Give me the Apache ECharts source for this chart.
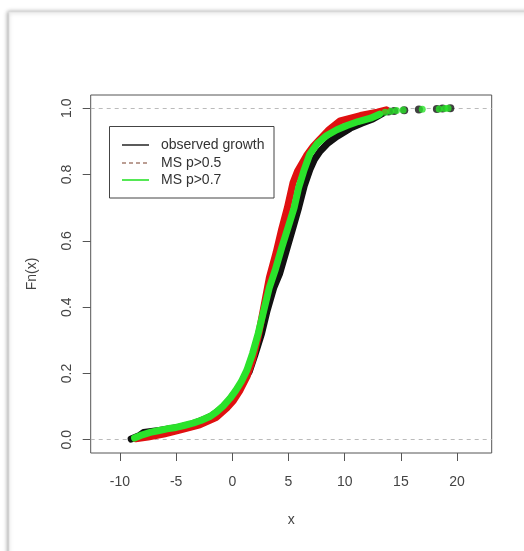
<!DOCTYPE html>
<html>
<head>
<meta charset="utf-8">
<script src="https://cdn.jsdelivr.net/npm/echarts@6/dist/echarts.min.js"></script>
<style>
html,body{margin:0;padding:0;background:#fff;}
#c{width:524px;height:551px;}
</style>
</head>
<body>
<div id="c"></div>
<script>
// ---- data ----
const xTicks = [-10, -5, 0, 5, 10, 15, 20];
const yTicks = [0, 0.2, 0.4, 0.6, 0.8, 1.0];
const legendNames = ['observed growth', 'MS p>0.5', 'MS p>0.7'];

const observedX = [-9.0,-8.3,-7.9,-6.5,-5.0,-3.5,-2.6,-1.8,-1.0,-0.3,0.3,0.9,1.5,2.0,2.6,3.1,3.7,4.2,4.8,5.4,5.9,6.4,6.9,7.3,7.8,8.5,9.3,10.5,11.5,12.5,13.4];
const observedF = [0.002,0.012,0.022,0.028,0.036,0.048,0.060,0.073,0.093,0.118,0.145,0.172,0.205,0.255,0.320,0.390,0.460,0.500,0.570,0.640,0.700,0.766,0.815,0.845,0.870,0.895,0.915,0.940,0.955,0.968,0.985];
const observedTailX = [13.9,14.4,15.3,16.6,18.2,18.7,19.4];
const observedTailF = [0.990,0.992,0.994,0.996,0.998,0.999,1.0];

const ms05X = [-8.6,-7.5,-6.1,-4.6,-2.9,-1.4,-0.5,0.1,0.7,1.3,1.8,2.3,2.8,3.3,3.9,4.4,4.9,5.4,5.8,6.6,7.2,7.8,8.6,9.6,11.4,12.9,13.7];
const ms05F = [0.003,0.008,0.017,0.030,0.045,0.068,0.095,0.118,0.150,0.190,0.240,0.310,0.400,0.490,0.565,0.636,0.700,0.775,0.810,0.857,0.885,0.907,0.935,0.962,0.978,0.988,0.995];

const ms07X = [-8.7,-8.0,-7.3,-6.5,-5.8,-5.0,-4.3,-3.5,-2.8,-2.0,-1.4,-0.8,-0.2,0.3,0.8,1.3,1.8,2.3,2.8,3.3,3.8,4.4,5.0,5.5,5.9,6.4,6.9,7.6,8.4,9.3,10.2,11.2,12.3,13.1];
const ms07F = [0.005,0.015,0.022,0.028,0.033,0.037,0.043,0.050,0.058,0.070,0.084,0.102,0.125,0.148,0.175,0.210,0.260,0.320,0.390,0.460,0.510,0.580,0.645,0.700,0.760,0.815,0.862,0.895,0.918,0.935,0.948,0.960,0.970,0.982];
const ms07TailX = [13.6,14.1,14.6,15.2,16.9,18.4,18.9,19.2];
const ms07TailF = [0.988,0.991,0.993,0.995,0.997,0.998,0.999,1.0];

const zip = (a, b) => a.map((v, i) => [v, b[i]]);

const FONT = '"Liberation Sans", Arial, sans-serif';
const BLACK = '#111111', RED = '#e01010', GREEN = '#2be32b';
const LW = 7;

const chart = echarts.init(document.getElementById('c'), null, {renderer: 'canvas'});
chart.setOption({
  animation: false,
  backgroundColor: '#ffffff',
  graphic: [
    {type: 'rect', z: -10, shape: {x: 9, y: 12, width: 540, height: 560},
     style: {fill: '#ffffff', stroke: '#e2e2e2', lineWidth: 1,
             shadowBlur: 4, shadowColor: 'rgba(0,0,0,0.35)', shadowOffsetX: -1, shadowOffsetY: 0}},
    {type: 'rect', z: 50, shape: {x: 109.5, y: 126.5, width: 164.5, height: 71.5},
     style: {fill: '#ffffff', stroke: '#444', lineWidth: 1}},
    {type: 'line', z: 51, shape: {x1: 122, y1: 145, x2: 149, y2: 145}, style: {stroke: '#333', lineWidth: 1.6}},
    {type: 'line', z: 51, shape: {x1: 122, y1: 163, x2: 149, y2: 163}, style: {stroke: '#a57f72', lineWidth: 1.6, lineDash: [4, 3]}},
    {type: 'line', z: 51, shape: {x1: 122, y1: 180, x2: 149, y2: 180}, style: {stroke: GREEN, lineWidth: 1.6}},
    {type: 'text', z: 51, x: 161, y: 145, style: {text: legendNames[0], font: '14px ' + FONT, fill: '#333', verticalAlign: 'middle'}},
    {type: 'text', z: 51, x: 161, y: 163, style: {text: legendNames[1], font: '14px ' + FONT, fill: '#333', verticalAlign: 'middle'}},
    {type: 'text', z: 51, x: 161, y: 180, style: {text: legendNames[2], font: '14px ' + FONT, fill: '#333', verticalAlign: 'middle'}}
  ],
  grid: {left: 90.7, top: 95, right: 32.3, bottom: 98, show: true, borderColor: '#555', borderWidth: 1, backgroundColor: 'transparent'},
  xAxis: {
    type: 'value', min: -12.6, max: 23.08,
    name: 'x', nameLocation: 'middle', nameGap: 60,
    nameTextStyle: {fontFamily: FONT, fontSize: 14, color: '#444'},
    axisLine: {show: false, onZero: false},
    splitLine: {show: false},
    axisTick: {show: true, inside: false, length: 8, lineStyle: {color: '#555'}, customValues: xTicks},
    axisLabel: {customValues: xTicks, margin: 22, fontFamily: FONT, fontSize: 14, color: '#444',
                formatter: v => String(v)}
  },
  yAxis: {
    type: 'value', min: -0.04, max: 1.04,
    name: 'Fn(x)', nameLocation: 'middle', nameGap: 52, nameRotate: 90,
    nameTextStyle: {fontFamily: FONT, fontSize: 14, color: '#444'},
    axisLine: {show: false, onZero: false},
    splitLine: {show: false},
    axisTick: {show: true, inside: false, length: 8, lineStyle: {color: '#555'}, customValues: yTicks},
    axisLabel: {customValues: yTicks, rotate: 90, margin: 17, fontFamily: FONT, fontSize: 14, color: '#444',
                formatter: v => v.toFixed(1)}
  },
  series: [
    {name: legendNames[0], type: 'line', z: 2, data: zip(observedX, observedF), showSymbol: false,
     lineStyle: {color: BLACK, width: LW, cap: 'round', join: 'round'},
     markLine: {silent: true, symbol: ['none', 'none'], label: {show: false}, z: 1,
                lineStyle: {type: [4, 4], color: '#bbbbbb', width: 1},
                data: [{yAxis: 0}, {yAxis: 1}]}},
    {name: legendNames[0] + ' tail', type: 'scatter', z: 2, data: zip(observedTailX, observedTailF),
     symbolSize: 8, itemStyle: {color: BLACK}},
    {name: legendNames[1], type: 'line', z: 3, data: zip(ms05X, ms05F), showSymbol: false,
     lineStyle: {color: RED, width: LW, cap: 'round', join: 'round'}},
    {name: legendNames[2], type: 'line', z: 4, data: zip(ms07X, ms07F), showSymbol: false,
     lineStyle: {color: GREEN, width: LW, cap: 'round', join: 'round'}},
    {name: legendNames[2] + ' tail', type: 'scatter', z: 4, data: zip(ms07TailX, ms07TailF),
     symbolSize: 7, itemStyle: {color: GREEN}}
  ]
});
</script>
</body>
</html>
